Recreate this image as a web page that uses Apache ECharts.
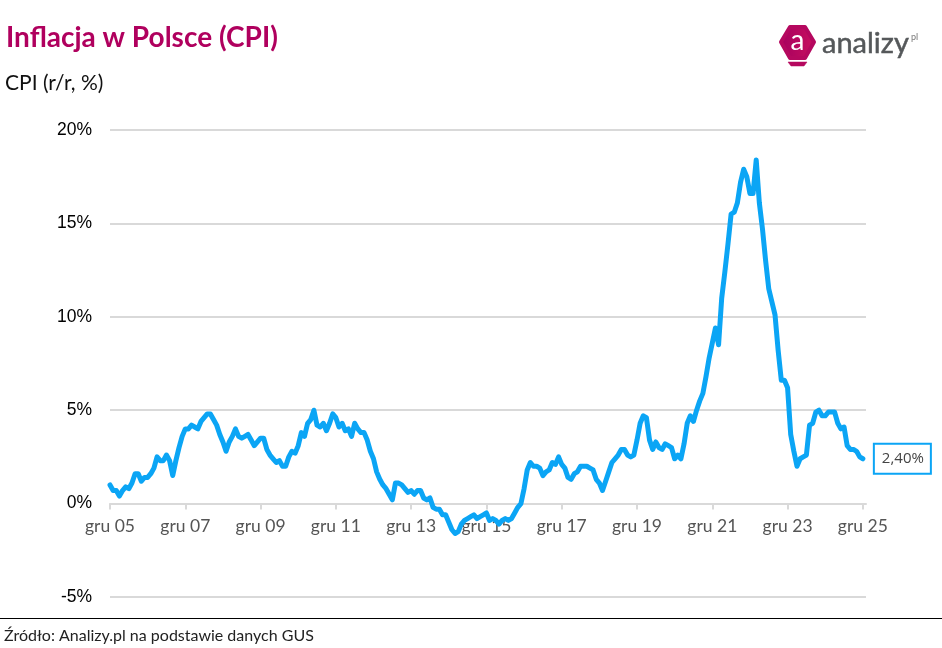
<!DOCTYPE html>
<html>
<head>
<meta charset="utf-8">
<script src="https://cdn.jsdelivr.net/npm/echarts@6/dist/echarts.min.js"></script>
<style>
  html, body { margin: 0; padding: 0; background: #fff; }
  #chart { width: 942px; height: 648px; }
</style>
</head>
<body>
<div id="chart"></div>
<script>
// CPI r/r, miesiecznie, od grudnia 2005 do grudnia 2025
const cpi2005 = [1.0];
const cpi2006 = [0.7, 0.7, 0.4, 0.7, 0.9, 0.8, 1.1, 1.6, 1.6, 1.2, 1.4, 1.4];
const cpi2007 = [1.6, 1.9, 2.5, 2.3, 2.3, 2.6, 2.3, 1.5, 2.3, 3.0, 3.6, 4.0];
const cpi2008 = [4.0, 4.2, 4.1, 4.0, 4.4, 4.6, 4.8, 4.8, 4.5, 4.2, 3.7, 3.3];
const cpi2009 = [2.8, 3.3, 3.6, 4.0, 3.6, 3.5, 3.6, 3.7, 3.4, 3.1, 3.3, 3.5];
const cpi2010 = [3.5, 2.9, 2.6, 2.4, 2.2, 2.3, 2.0, 2.0, 2.5, 2.8, 2.7, 3.1];
const cpi2011 = [3.8, 3.6, 4.3, 4.5, 5.0, 4.2, 4.1, 4.3, 3.9, 4.3, 4.8, 4.6];
const cpi2012 = [4.1, 4.3, 3.9, 4.0, 3.6, 4.3, 4.0, 3.8, 3.8, 3.4, 2.8, 2.4];
const cpi2013 = [1.7, 1.3, 1.0, 0.8, 0.5, 0.2, 1.1, 1.1, 1.0, 0.8, 0.6, 0.7];
const cpi2014 = [0.5, 0.7, 0.7, 0.3, 0.2, 0.3, -0.2, -0.3, -0.3, -0.6, -0.6, -1.0];
const cpi2015 = [-1.4, -1.6, -1.5, -1.1, -0.9, -0.8, -0.7, -0.6, -0.8, -0.7, -0.6, -0.5];
const cpi2016 = [-0.9, -0.8, -0.9, -1.1, -0.9, -0.8, -0.9, -0.8, -0.5, -0.2, 0.0, 0.8];
const cpi2017 = [1.8, 2.2, 2.0, 2.0, 1.9, 1.5, 1.7, 1.8, 2.2, 2.1, 2.5, 2.1];
const cpi2018 = [1.9, 1.4, 1.3, 1.6, 1.7, 2.0, 2.0, 2.0, 1.9, 1.8, 1.3, 1.1];
const cpi2019 = [0.7, 1.2, 1.7, 2.2, 2.4, 2.6, 2.9, 2.9, 2.6, 2.5, 2.6, 3.4];
const cpi2020 = [4.3, 4.7, 4.6, 3.4, 2.9, 3.3, 3.0, 2.9, 3.2, 3.1, 3.0, 2.4];
const cpi2021 = [2.6, 2.4, 3.2, 4.3, 4.7, 4.4, 5.0, 5.5, 5.9, 6.8, 7.8, 8.6];
const cpi2022 = [9.4, 8.5, 11.0, 12.4, 13.9, 15.5, 15.6, 16.1, 17.2, 17.9, 17.5, 16.6];
const cpi2023 = [16.6, 18.4, 16.1, 14.7, 13.0, 11.5, 10.8, 10.1, 8.2, 6.6, 6.6, 6.2];
const cpi2024 = [3.7, 2.8, 2.0, 2.4, 2.5, 2.6, 4.2, 4.3, 4.9, 5.0, 4.7, 4.7];
const cpi2025 = [4.9, 4.9, 4.9, 4.3, 4.0, 4.1, 3.1, 2.9, 2.9, 2.8, 2.5, 2.4];

const cpiValues = [].concat(cpi2005, cpi2006, cpi2007, cpi2008, cpi2009, cpi2010, cpi2011,
    cpi2012, cpi2013, cpi2014, cpi2015, cpi2016, cpi2017, cpi2018, cpi2019, cpi2020,
    cpi2021, cpi2022, cpi2023, cpi2024, cpi2025);

const monthNames = ['sty', 'lut', 'mar', 'kwi', 'maj', 'cze', 'lip', 'sie', 'wrz', 'paz', 'lis', 'gru'];

// Kategorie: gru 05, sty 06, ... gru 25 i jeden pusty miesiac na koncu osi
const categories = ['gru 05'];
for (let y = 6; y <= 25; y++) {
    monthNames.forEach(m => categories.push(m + ' ' + String(y).padStart(2, '0')));
}
categories.push('');

const MAROON = '#b0005e';
const BLUE = '#0ba5f5';
const FONT = 'Lato';

const chart = echarts.init(document.getElementById('chart'), null, { renderer: 'canvas' });

chart.setOption({
    animation: false,
    backgroundColor: '#fff',
    title: [
        {
            text: 'Inflacja w Polsce (CPI)',
            left: 6, top: 24, padding: 0,
            textStyle: { color: MAROON, fontFamily: FONT, fontWeight: 'bold', fontSize: 28 }
        },
        {
            text: 'CPI (r/r, %)',
            left: 5, top: 73, padding: 0,
            textStyle: { color: '#111', fontFamily: FONT, fontWeight: 'normal', fontSize: 21 }
        },
        {
            text: 'Źródło: Analizy.pl na podstawie danych GUS',
            left: 4, top: 628, padding: 0,
            textStyle: { color: '#222', fontFamily: FONT, fontWeight: 'normal', fontSize: 16 }
        }
    ],
    grid: { left: 110, right: 76, top: 130, bottom: 51 },
    xAxis: {
        type: 'category',
        boundaryGap: false,
        data: categories,
        // os na poziomie 0%, etykiety razem z nia
        offset: -93.4,
        axisLine: { onZero: false, lineStyle: { color: '#d9d9d9', width: 2 } },
        axisTick: {
            show: true,
            length: 6,
            interval: i => i % 24 === 0 && i < 241,
            lineStyle: { color: '#d9d9d9', width: 2 }
        },
        axisLabel: {
            interval: i => i % 24 === 0 && i < 241,
            margin: 14,
            color: '#555',
            fontFamily: FONT,
            fontSize: 17.5
        },
        splitLine: { show: false }
    },
    yAxis: {
        type: 'value',
        min: -5,
        max: 20,
        interval: 5,
        axisLine: { show: false },
        axisTick: { show: false },
        axisLabel: {
            formatter: '{value}%',
            margin: 18,
            color: '#000',
            fontFamily: 'Liberation Sans',
            fontSize: 17.5
        },
        splitLine: { lineStyle: { color: '#d9d9d9', width: 2 } }
    },
    series: [{
        name: 'CPI',
        type: 'line',
        data: cpiValues,
        showSymbol: false,
        symbol: 'none',
        lineStyle: { color: BLUE, width: 5, cap: 'round', join: 'round' },
        endLabel: {
            show: true,
            formatter: p => p.value.toFixed(2).replace('.', ',') + '%',
            distance: 12,
            color: '#444',
            fontFamily: 'Open Sans',
            fontSize: 15,
            backgroundColor: '#fff',
            borderColor: BLUE,
            borderWidth: 2,
            padding: [7, 6, 6, 7]
        }
    }],
    graphic: [
        // logo analizy.pl
        {
            type: 'polygon',
            shape: { points: [[790, 27], [805, 27], [814, 42], [805, 58], [790, 58], [781, 42]] },
            style: {
                fill: new echarts.graphic.LinearGradient(0, 0, 1, 0, [
                    { offset: 0, color: '#a5005f' }, { offset: 1, color: '#c9105f' }
                ]),
                stroke: '#b5085f', lineWidth: 4, lineJoin: 'round'
            }
        },
        {
            type: 'polygon',
            shape: { points: [[788, 62], [807, 62], [804, 66], [791, 66]] },
            style: { fill: '#b5085f', stroke: '#b5085f', lineWidth: 0.5 }
        },
        {
            type: 'text', x: 797.5, y: 41,
            style: { text: 'a', fill: '#fff', font: 'normal 28px Lato', textAlign: 'center', textVerticalAlign: 'middle' }
        },
        {
            type: 'text', x: 822, y: 44,
            style: { text: 'analizy', fill: '#55585a', stroke: '#55585a', lineWidth: 0.5, font: '29px Lato', textAlign: 'left', textVerticalAlign: 'middle' }
        },
        {
            type: 'text', x: 911, y: 37,
            style: { text: 'pl', fill: '#777', font: '9px Lato', textAlign: 'left', textVerticalAlign: 'middle' }
        },
        // linia nad zrodlem
        {
            type: 'line',
            shape: { x1: 0, y1: 618.5, x2: 942, y2: 618.5 },
            style: { stroke: '#000', lineWidth: 1 }
        }
    ]
});

window.addEventListener('resize', function() {
    chart.resize();
});
</script>
</body>
</html>
